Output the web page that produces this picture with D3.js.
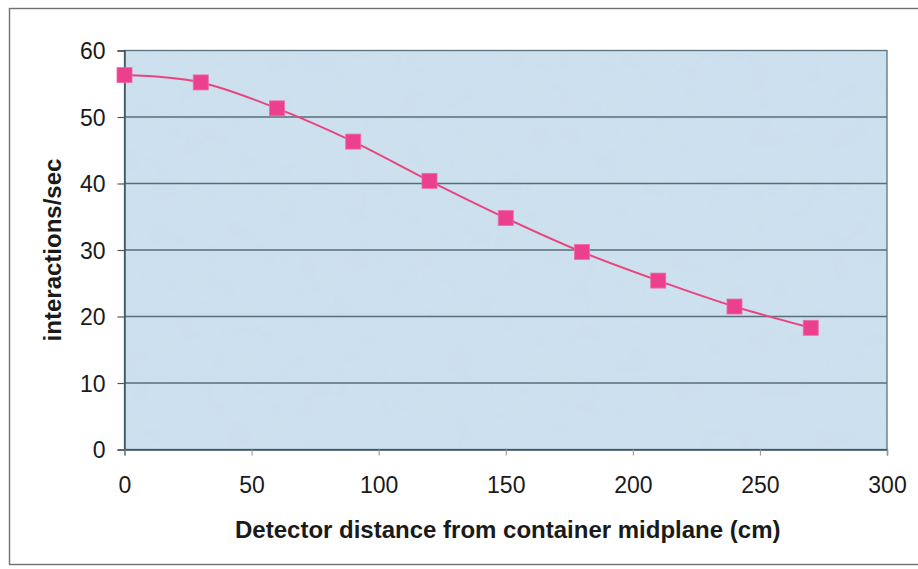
<!DOCTYPE html>
<html>
<head>
<meta charset="utf-8">
<script src="https://cdn.jsdelivr.net/npm/d3@7"></script>
<style>
  html, body { margin: 0; padding: 0; background: #ffffff; }
  svg { display: block; }
  text { font-family: "Liberation Sans", Arial, sans-serif; fill: #1a1a1a; }
</style>
</head>
<body>
<svg id="chart" width="918" height="569"></svg>
<script>
// Detector distance (cm) and measured interaction rate (interactions/sec)
const distances = [0, 30, 60, 90, 120, 150, 180, 210, 240, 270];
const rates = [56.3, 55.2, 51.3, 46.3, 40.4, 34.8, 29.7, 25.4, 21.5, 18.3];
const xTicks = [0, 50, 100, 150, 200, 250, 300];
const yTicks = [0, 10, 20, 30, 40, 50, 60];
const xTitle = "Detector distance from container midplane (cm)";
const yTitle = "interactions/sec";

const svg = d3.select("#chart");
const W = 918;
const plot = { left: 124.5, right: 887, top: 50.5, bottom: 449.5 };

const x = d3.scaleLinear().domain([0, 300]).range([plot.left, plot.right]);
const y = d3.scaleLinear().domain([0, 60]).range([plot.bottom, plot.top]);

// grain texture for the plot fill
const defs = svg.append("defs");
const f = defs.append("filter").attr("id", "grain")
  .attr("x", 0).attr("y", 0).attr("width", "100%").attr("height", "100%");
f.append("feTurbulence").attr("type", "fractalNoise")
  .attr("baseFrequency", 0.85).attr("numOctaves", 2).attr("seed", 3).attr("result", "n");
f.append("feColorMatrix").attr("in", "n").attr("type", "matrix")
  .attr("values", "0 0 0 0 0.55  0 0 0 0 0.65  0 0 0 0 0.72  0 0 0 0.16 0");
const f2 = defs.append("filter").attr("id", "mottle")
  .attr("x", 0).attr("y", 0).attr("width", "100%").attr("height", "100%");
f2.append("feTurbulence").attr("type", "fractalNoise")
  .attr("baseFrequency", 0.04).attr("numOctaves", 3).attr("seed", 7).attr("result", "n");
f2.append("feColorMatrix").attr("in", "n").attr("type", "matrix")
  .attr("values", "0 0 0 0 0.6  0 0 0 0 0.7  0 0 0 0 0.78  0 0 0 0.14 -0.02");

// outer chart frame
svg.append("rect")
  .attr("x", 9.5).attr("y", 8.5).attr("width", W + 20).attr("height", 556)
  .attr("fill", "#ffffff").attr("stroke", "#707070").attr("stroke-width", 1.4);

// plot area background
const pw = plot.right - plot.left, ph = plot.bottom - plot.top;
svg.append("rect").attr("x", plot.left).attr("y", plot.top)
  .attr("width", pw).attr("height", ph).attr("fill", "#cde1f0");
svg.append("rect").attr("x", plot.left).attr("y", plot.top)
  .attr("width", pw).attr("height", ph).attr("filter", "url(#mottle)");
svg.append("rect").attr("x", plot.left).attr("y", plot.top)
  .attr("width", pw).attr("height", ph).attr("filter", "url(#grain)");

// horizontal gridlines
svg.append("g").selectAll("line").data(yTicks.filter(d => d > 0 && d < 60)).join("line")
  .attr("x1", plot.left).attr("x2", plot.right)
  .attr("y1", d => y(d)).attr("y2", d => y(d))
  .attr("stroke", "#566f7a").attr("stroke-width", 1.4);

// plot border
svg.append("rect").attr("x", plot.left).attr("y", plot.top)
  .attr("width", pw).attr("height", ph)
  .attr("fill", "none").attr("stroke", "#5a7380").attr("stroke-width", 1.3);

const tickFont = "'Liberation Sans', Arial, sans-serif";

// y axis
const yAxis = svg.append("g").attr("transform", `translate(${plot.left},0)`)
  .call(d3.axisLeft(y).tickValues(yTicks).tickSize(7).tickPadding(12).tickFormat(d3.format("d")));
yAxis.select(".domain").attr("stroke", "#3d4f57").attr("stroke-width", 1.4);
yAxis.selectAll(".tick line").attr("stroke", "#555").attr("stroke-width", 1.2);
yAxis.selectAll(".tick text").attr("font-size", 23).attr("fill", "#1a1a1a")
  .attr("font-family", tickFont).attr("dy", "0.36em");

// x axis
const xAxis = svg.append("g").attr("transform", `translate(0,${plot.bottom})`)
  .call(d3.axisBottom(x).tickValues(xTicks).tickSize(6).tickPadding(21).tickFormat(d3.format("d")));
xAxis.select(".domain").attr("stroke", "#3d4f57").attr("stroke-width", 1.4);
xAxis.selectAll(".tick line").attr("stroke", "#999").attr("stroke-width", 1.1);
xAxis.selectAll(".tick text").attr("font-size", 23).attr("fill", "#1a1a1a")
  .attr("font-family", tickFont);

// axis titles
svg.append("text")
  .attr("x", (plot.left + plot.right) / 2 + 2).attr("y", 538)
  .attr("text-anchor", "middle").attr("font-size", 24).attr("font-weight", "bold")
  .text(xTitle);
svg.append("text")
  .attr("transform", `translate(61,${(plot.top + plot.bottom) / 2}) rotate(-90)`)
  .attr("text-anchor", "middle").attr("font-size", 24).attr("font-weight", "bold")
  .text(yTitle);

// smoothed series line
const pts = distances.map((d, i) => [d, rates[i]]);
const line = d3.line().x(d => x(d[0])).y(d => y(d[1])).curve(d3.curveCardinal.tension(0));
svg.append("path").datum(pts).attr("d", line)
  .attr("fill", "none").attr("stroke", "#e8457f").attr("stroke-width", 2);

// square markers
const ms = 15;
svg.append("g").selectAll("rect").data(pts).join("rect")
  .attr("x", d => x(d[0]) - ms / 2).attr("y", d => y(d[1]) - ms / 2)
  .attr("width", ms).attr("height", ms)
  .attr("fill", "#ec3f8e").attr("stroke", "#f06aa6").attr("stroke-width", 0.8);
</script>
</body>
</html>
